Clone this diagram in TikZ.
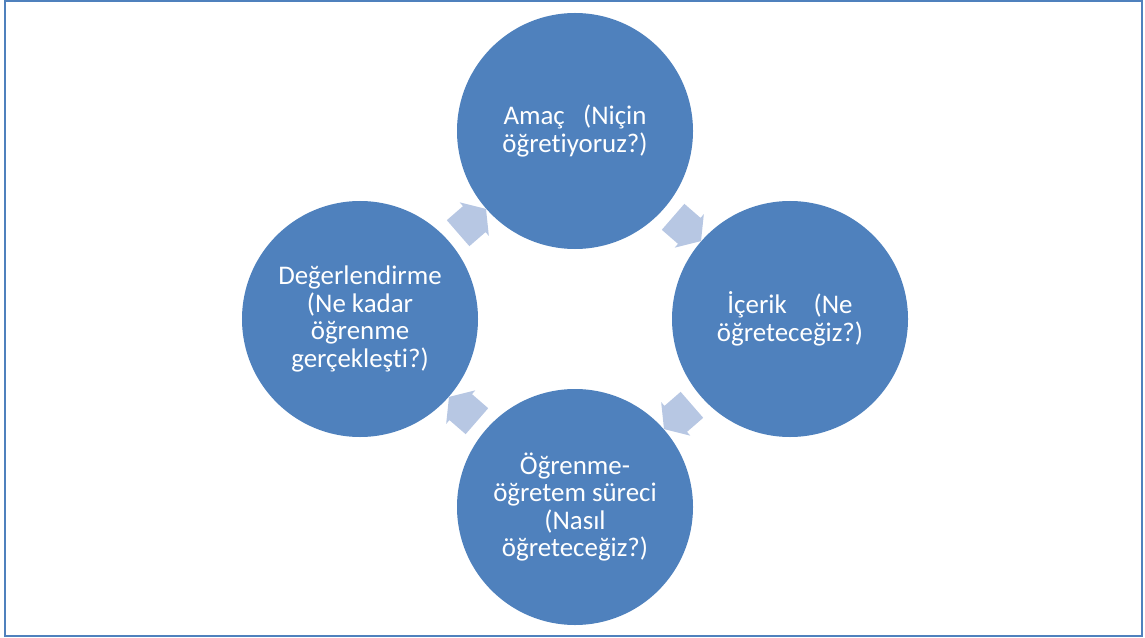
\documentclass[tikz,border=0pt]{standalone}
\usepackage{fontspec}
\setmainfont{Carlito}[Ligatures=NoCommon]
\usetikzlibrary{positioning, calc, shapes.arrows}
\definecolor{stageblue}{HTML}{4F81BD}
\definecolor{flowblue}{HTML}{B7C7E3}
\definecolor{frameblue}{HTML}{4F81BD}

\begin{document}
\begin{tikzpicture}[x=1bp, y=1bp, node distance=188bp and 215bp, on grid,
    stage/.style={circle, fill=stageblue, minimum size=236bp, inner sep=0pt,
      text=white, align=center, font=\fontsize{27}{27.7}\selectfont},
    flow/.style={single arrow, fill=flowblue, minimum height=37bp, minimum width=44bp,
      single arrow head extend=5bp, single arrow tip angle=110,
      inner xsep=0pt, inner ysep=17bp}]

    \useasboundingbox (0,0) rectangle (1145,-638);
    \draw[frameblue, line width=2.5bp] (5,-1) rectangle (1142,-636);

    \node[stage] (amac) at (575,-131) {Amaç~~~(Niçin\\öğretiyoruz?)};
    \node[stage, below right=of amac] (icerik) {İçerik\quad(Ne\\öğreteceğiz?)};
    \node[stage, below left=of icerik] (surec) {Öğrenme-\\öğretem süreci\\(Nasıl\\öğreteceğiz?)};
    \node[stage, below left=of amac] (degerlendirme) {Değerlendirme\\(Ne kadar\\öğrenme\\gerçekleşti?)};

    \node[flow, rotate=41] (f_1) at ($(degerlendirme)!0.5!(amac)$) {};
    \node[flow, rotate=-41] (f_2) at ($(amac)!0.5!(icerik)$) {};
    \node[flow, rotate=-139] (f_3) at ($(icerik)!0.5!(surec)$) {};
    \node[flow, rotate=139] (f_4) at ($(surec)!0.5!(degerlendirme)$) {};
\end{tikzpicture}
\end{document}
